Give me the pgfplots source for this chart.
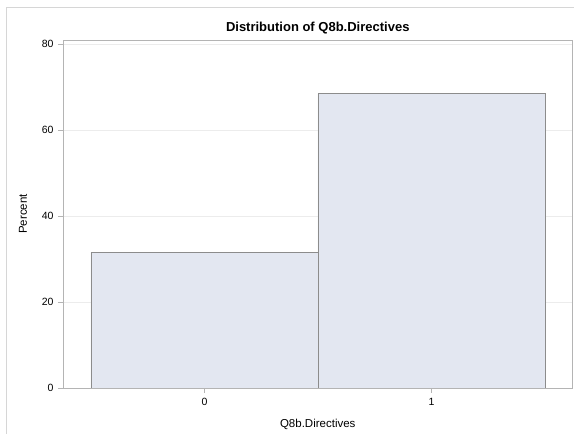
\documentclass[border=0pt]{standalone}
\usepackage{pgfplots}
\pgfplotsset{compat=1.18}
\usepackage{fontspec}
\setmainfont{Liberation Sans}
\definecolor{barfill}{HTML}{E3E7F1}
\definecolor{baredge}{HTML}{8C8C8C}
\definecolor{framec}{HTML}{B4B4B4}
\definecolor{gridc}{HTML}{ECECEC}
\begin{document}
\begin{tikzpicture}[x=1pt,y=1pt]
\path[use as bounding box] (-63,-46) rectangle (511,388);
\draw[color=gridc!80!gray, line width=0.8pt] (-57,-46) -- (-57,381) -- (511,381);
\begin{axis}[
  at={(0,0)}, anchor=south west,
  scale only axis, width=509.5pt, height=348pt,
  xmin=-0.623, xmax=1.621, ymin=0, ymax=80.93,
  xtick={0,1}, ytick={0,20,40,60,80},
  xtick pos=lower, ytick pos=left,
  tick align=outside, major tick length=5pt,
  tick style={color=framec, line width=0.6pt},
  axis line style={color=framec, line width=0.7pt},
  ymajorgrids, grid style={color=gridc, line width=0.8pt},
  /pgf/number format/assume math mode=true,
  ticklabel style={font=\fontsize{10.5}{12}\selectfont, text=black},
  yticklabel style={xshift=-1pt},
  xticklabel style={yshift=-2pt},
  xlabel={Q8b.Directives}, ylabel={Percent},
  label style={font=\fontsize{11.5}{13}\selectfont},
  xlabel style={yshift=-6pt},
  ylabel style={yshift=8pt},
  title={\textbf{Distribution of Q8b.Directives}},
  title style={font=\fontsize{13}{15}\selectfont, yshift=-4pt},
]
\addplot[ybar interval, fill=barfill, draw=baredge, line width=0.8pt]
  coordinates {(-0.5,31.6) (0.5,68.4) (1.5,68.4)};
\end{axis}
\end{tikzpicture}
\end{document}
